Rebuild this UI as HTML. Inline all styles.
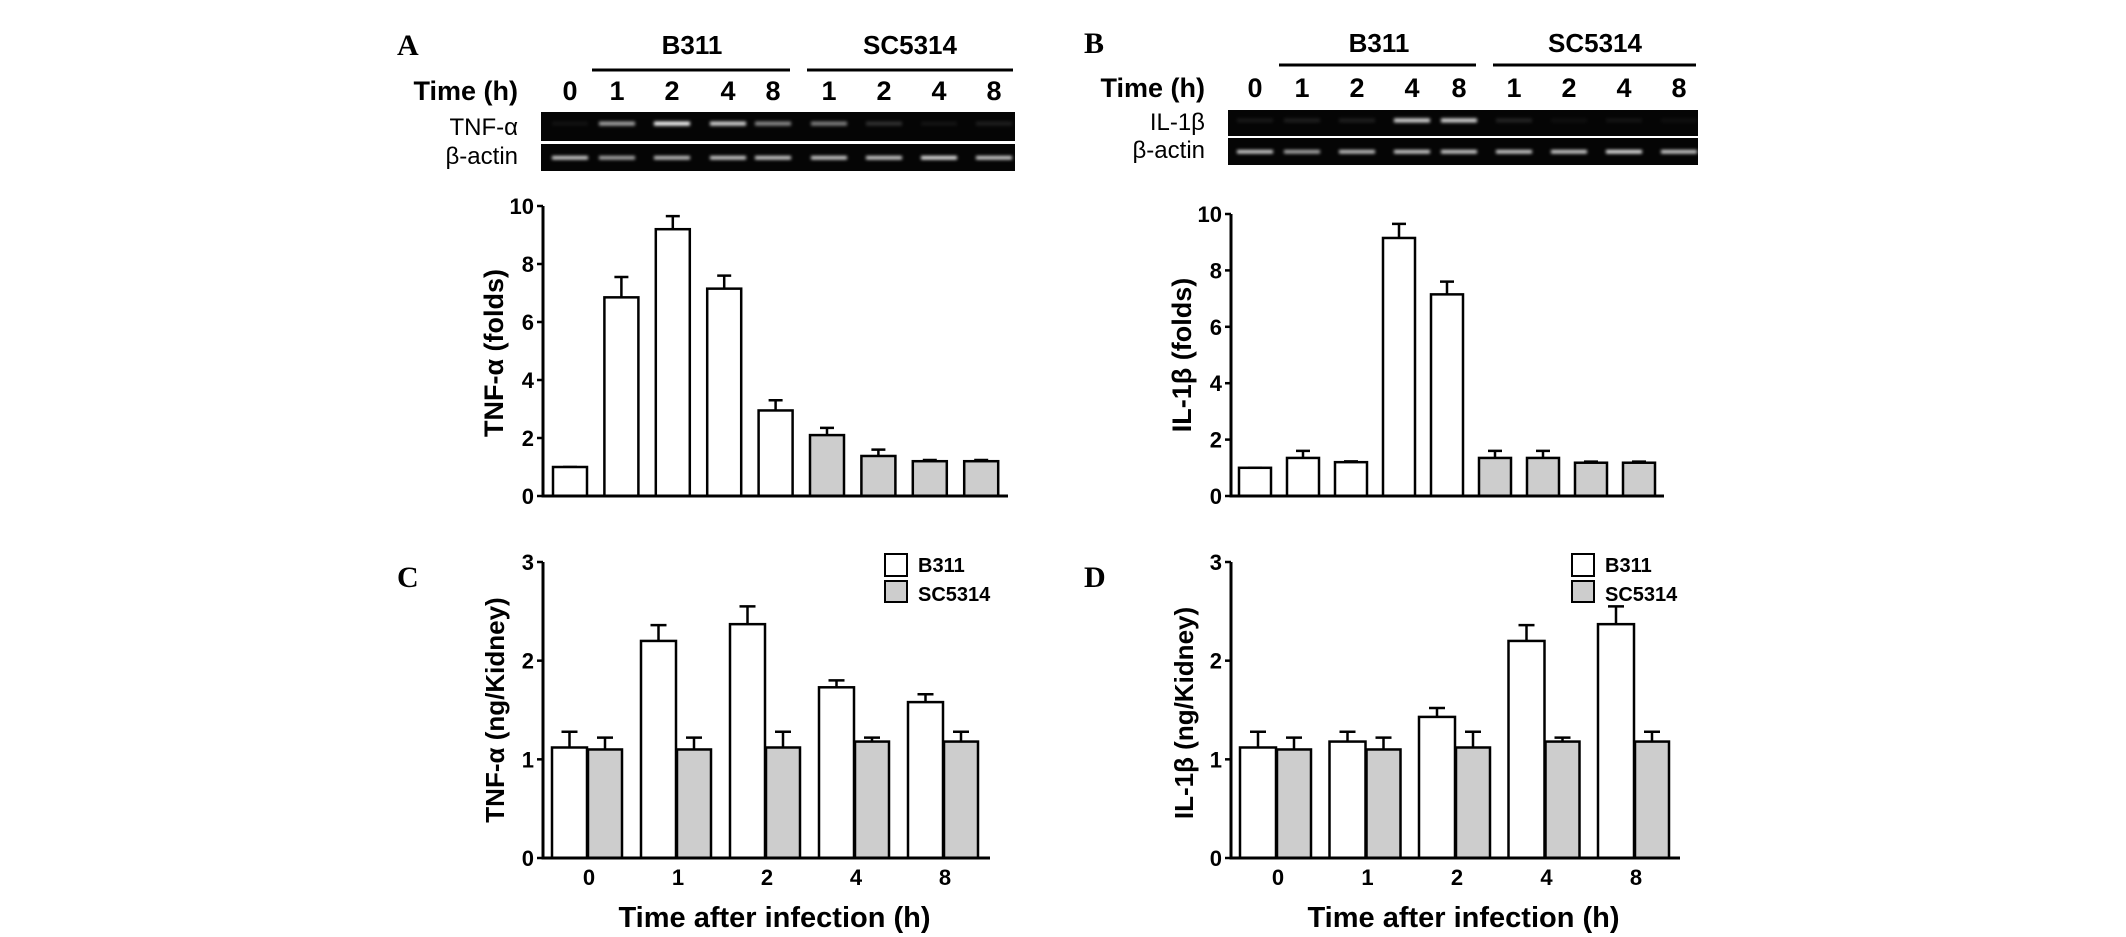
<!DOCTYPE html>
<html><head><meta charset="utf-8"><style>
html,body{margin:0;padding:0;background:#fff;}
svg{display:block;}
text{font-family:"Liberation Sans",sans-serif;}
.b{font-weight:bold;}
.serif{font-family:"Liberation Serif",serif;font-weight:bold;}
</style></head><body>
<svg id="fig" width="2126" height="937" viewBox="0 0 2126 937" xmlns="http://www.w3.org/2000/svg">
<defs><filter id="blur" x="-20%" y="-200%" width="140%" height="500%"><feGaussianBlur stdDeviation="1.6"/></filter></defs>
</svg>
<script>
// ---- data ----
const laneLabels = ["0","1","2","4","8","1","2","4","8"];
const foldTicks = [0,2,4,6,8,10];
const tnfFold = [1.0,6.85,9.2,7.15,2.95,2.1,1.38,1.2,1.2];
const tnfFoldErr = [0,0.7,0.45,0.45,0.35,0.25,0.22,0.04,0.04];
const ilFold = [1.0,1.35,1.2,9.15,7.15,1.35,1.35,1.18,1.18];
const ilFoldErr = [0,0.25,0.03,0.5,0.45,0.25,0.25,0.04,0.04];
const timeCats = ["0","1","2","4","8"];
const kidneyTicks = [0,1,2,3];
const tnfB311 = [1.12,2.2,2.37,1.73,1.58];
const tnfB311Err = [0.16,0.16,0.18,0.07,0.08];
const tnfSC = [1.1,1.1,1.12,1.18,1.18];
const tnfSCErr = [0.12,0.12,0.16,0.04,0.1];
const ilB311 = [1.12,1.18,1.43,2.2,2.37];
const ilB311Err = [0.16,0.1,0.09,0.16,0.18];
const ilSC = [1.1,1.1,1.12,1.18,1.18];
const ilSCErr = [0.12,0.12,0.16,0.04,0.1];
const tnfBand = [0.05,0.65,1.0,0.85,0.55,0.5,0.18,0.06,0.1];
const ilBand = [0.08,0.1,0.1,0.85,0.85,0.12,0.04,0.06,0.04];
const actinBand = [0.85,0.7,0.8,0.85,0.85,0.85,0.85,0.95,0.85];

const svg = document.getElementById('fig');
const NS = 'http://www.w3.org/2000/svg';
function mk(tag, attrs, parent){
  const e = document.createElementNS(NS, tag);
  for (const k in attrs) e.setAttribute(k, attrs[k]);
  (parent||svg).appendChild(e);
  return e;
}
function txt(s, x, y, size, cls, anchor, parent){
  const t = mk('text', {x:x, y:y, 'font-size':size, 'text-anchor':anchor||'start', class:cls||''}, parent);
  t.textContent = s;
  return t;
}

function blot(g, x1, x2, lanesX, row1, row2, label1, bands1, numY, letter, letterX, b311c, scc, lineY, b311L, scL, grpY){
  const gl = txt(letter, letterX, grpY+1, 30, 'serif', 'start', g);
  
  
  const t1 = txt('B311', b311c, grpY, 26, 'b', 'middle', g);
  
  
  const t2 = txt('SC5314', scc, grpY, 26, 'b', 'middle', g);
  
  
  const l1 = mk('line', {x1:b311L[0], x2:b311L[1], y1:lineY, y2:lineY, stroke:'#000', 'stroke-width':3}, g);
  
  
  const l2 = mk('line', {x1:scL[0], x2:scL[1], y1:lineY, y2:lineY, stroke:'#000', 'stroke-width':3}, g);
  
  
  const th = txt('Time (h)', x1 - 23, numY, 27, 'b', 'end', g);
  
  
  laneLabels.forEach((s, i) => {
    const n = txt(s, lanesX[i], numY, 27, 'b', 'middle', g);
    
    
  });
  const r1 = mk('rect', {x:x1, y:row1[0], width:x2-x1, height:row1[1]-row1[0], fill:'#050505'}, g);
  
  
  const r2 = mk('rect', {x:x1, y:row2[0], width:x2-x1, height:row2[1]-row2[0], fill:'#050505'}, g);
  
  
  const la = txt(label1, x1 - 23, row1[1] - 6, 24, '', 'end', g);
  
  
  const lb = txt('β-actin', x1 - 23, row2[1] - 7, 24, '', 'end', g);
  
  
  const yb1 = row1[0] + (row1[1]-row1[0])*0.4, yb2 = (row2[0]+row2[1])/2;
  lanesX.forEach((cx, i) => {
    const e1 = mk('rect', {x:cx-18, y:yb1-2, width:36, height:4, fill:'#fff', opacity:bands1[i], filter:'url(#blur)'}, g);
    
    
    const e2 = mk('rect', {x:cx-18, y:yb2-1.5, width:36, height:3.5, fill:'#fff', opacity:actinBand[i], filter:'url(#blur)'}, g);
    
    
  });
}

function foldChart(g, axX, axEnd, y0, y10, c0, step, bw, vals, errs, title, titleX, titleY){
  const ys = v => y0 + (y10 - y0) * v / 10;
  vals.forEach((v, i) => {
    const cx = c0 + step*i;
    const top = ys(v);
    const eb = mk('path', {d:`M${cx} ${top} V${ys(v+errs[i])} M${cx-7} ${ys(v+errs[i])} H${cx+7}`, stroke:'#000', 'stroke-width':2.5, fill:'none'}, g);
    
    
    const r = mk('rect', {x:cx-bw/2, y:top, width:bw, height:y0-top, fill:i>=5?'#cdcdcd':'#fff', stroke:'#000', 'stroke-width':2.5}, g);
    
    
  });
  const ax = mk('path', {d:`M${axX} ${y10} V${y0} H${axEnd}`, stroke:'#000', 'stroke-width':3, fill:'none'}, g);
  
  
  foldTicks.forEach(t => {
    const tk = mk('line', {x1:axX-6, x2:axX, y1:ys(t), y2:ys(t), stroke:'#000', 'stroke-width':2.5}, g);
    
    
    const tl = txt(String(t), axX-9, ys(t)+8, 22, 'b', 'end', g);
    
    
  });
  const yt = txt(title, 0, 0, 27, 'b', 'middle', g);
  yt.setAttribute('transform', `translate(${titleX},${titleY}) rotate(-90)`);
  
  
}

function kidneyChart(g, axX, axEnd, y0, y3, left0, step, wW, gW, bVals, bErr, sVals, sErr, title, titleX, titleY, legX, letter, letterX){
  const ys = v => y0 + (y3 - y0) * v / 3;
  const gl = txt(letter, letterX, 587, 30, 'serif', 'start', g);
  
  
  function bar(x, w, v, e, fill, name){
    const cx = x + w/2, top = ys(v);
    const eb = mk('path', {d:`M${cx} ${top} V${ys(v+e)} M${cx-8} ${ys(v+e)} H${cx+8}`, stroke:'#000', 'stroke-width':2.5, fill:'none'}, g);
    
    
    const r = mk('rect', {x:x, y:top, width:w, height:y0-top, fill:fill, stroke:'#000', 'stroke-width':2.5}, g);
    
    
  }
  timeCats.forEach((c, i) => {
    const lx = left0 + step*i;
    bar(lx, wW, bVals[i], bErr[i], '#fff', 'bar-b311-' + c + 'h');
    bar(lx + wW + 1, gW, sVals[i], sErr[i], '#cdcdcd', 'bar-sc5314-' + c + 'h');
    const xl = txt(c, lx + wW + 2, 885, 22, 'b', 'middle', g);
    
    
  });
  const ax = mk('path', {d:`M${axX} ${y3} V${y0} H${axEnd}`, stroke:'#000', 'stroke-width':3, fill:'none'}, g);
  
  
  kidneyTicks.forEach(t => {
    const tk = mk('line', {x1:axX-6, x2:axX, y1:ys(t), y2:ys(t), stroke:'#000', 'stroke-width':2.5}, g);
    
    
    const tl = txt(String(t), axX-9, ys(t)+8, 22, 'b', 'end', g);
    
    
  });
  const yt = txt(title, 0, 0, 26, 'b', 'middle', g);
  yt.setAttribute('transform', `translate(${titleX},${titleY}) rotate(-90)`);
  
  
  const xt = txt('Time after infection (h)', (axX+axEnd)/2 + 8, 927, 29, 'b', 'middle', g);
  
  
  const lg = mk('g', {}, g);
  
  
  const b1 = mk('rect', {x:legX, y:554, width:22, height:22, fill:'#fff', stroke:'#000', 'stroke-width':2}, lg);
  
  
  const b2 = mk('rect', {x:legX, y:581, width:22, height:21, fill:'#cdcdcd', stroke:'#000', 'stroke-width':2}, lg);
  
  
  const e1 = txt('B311', legX+33, 572, 20, 'b', 'start', lg);
  
  
  const e2 = txt('SC5314', legX+33, 601, 20, 'b', 'start', lg);
  
  
}

// Panel A
const gA = mk('g', {});  
blot(gA, 541, 1015, [570,617,672,728,773,829,884,939,994], [112,141], [144,171], 'TNF-α', tnfBand, 100, 'A', 397, 692, 910, 70, [592,790], [807,1013], 54);
foldChart(gA, 543, 1008, 496, 206, 570, 51.4, 34, tnfFold, tnfFoldErr, 'TNF-α (folds)', 503, 353);
// Panel B
const gB = mk('g', {});  
blot(gB, 1228, 1698, [1255,1302,1357,1412,1459,1514,1569,1624,1679], [110,136], [138,165], 'IL-1β', ilBand, 97, 'B', 1084, 1379, 1595, 65, [1279,1476], [1493,1696], 52);
foldChart(gB, 1231, 1664, 496, 214, 1255, 48, 32, ilFold, ilFoldErr, 'IL-1β (folds)', 1191, 355);
// Panel C
const gC = mk('g', {});  
kidneyChart(gC, 543, 990, 858, 562, 552, 89, 35, 34, tnfB311, tnfB311Err, tnfSC, tnfSCErr, 'TNF-α (ng/Kidney)', 504, 710, 885, 'C', 397);
// Panel D
const gD = mk('g', {});  
kidneyChart(gD, 1231, 1680, 858, 562, 1240, 89.5, 36, 34, ilB311, ilB311Err, ilSC, ilSCErr, 'IL-1β (ng/Kidney)', 1193, 713, 1572, 'D', 1084);
</script>
</body></html>
